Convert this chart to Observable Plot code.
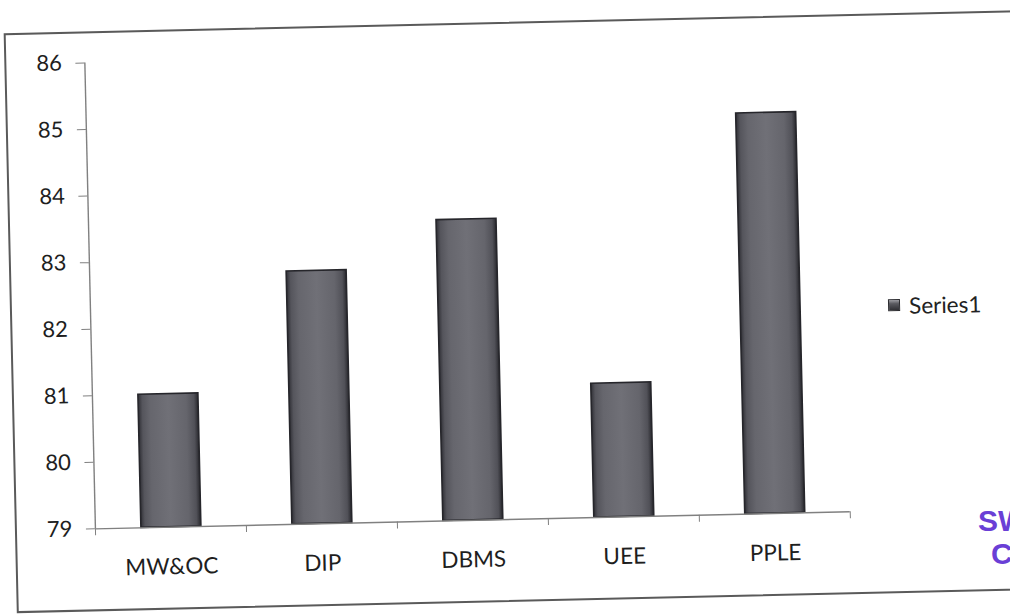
<!DOCTYPE html>
<html>
<head>
<meta charset="utf-8">
<script src="https://cdn.jsdelivr.net/npm/d3@7"></script>
<script src="https://cdn.jsdelivr.net/npm/@observablehq/plot@0.6"></script>
<style>
  html, body { margin: 0; padding: 0; background: #fff; overflow: hidden; width: 1010px; height: 614px; }
  #wrap { position: absolute; left: 0; top: 0; width: 1010px; height: 614px; transform: rotate(-1.3deg); transform-origin: 505px 307px; }
  #frame { position: absolute; left: 10px; top: 22px; width: 1100px; height: 580px; border: 2px solid #5a5a5a; box-sizing: border-box; }
  #chart { position: absolute; left: 0; top: 0; }
  #legend { position: absolute; left: 888px; top: 300px; height: 28px; display: flex; align-items: center; font: 22.5px Lato, sans-serif; color: #222; }
  #legend .sw { width: 12px; height: 12px; margin-right: 9px; background: linear-gradient(180deg, #9a9aa0 0%, #5a5a60 35%, #2f2f34 100%); border: 1px solid #2a2a2e; box-sizing: border-box; }
  .stamp { position: absolute; color: #6a3fd6; font: bold 30px "Liberation Sans", Arial, sans-serif; line-height: 30px; }
</style>
</head>
<body>
<div id="wrap">
  <div id="frame"></div>
  <div id="chart"></div>
  <div id="legend"><div class="sw"></div><span id="legendLabel"></span></div>
</div>
<div class="stamp" style="left:978px; top:506px;">SW</div>
<div class="stamp" style="left:991px; top:539px;">C</div>
<script>
// ---- data ----
const categories = ["MW&OC", "DIP", "DBMS", "UEE", "PPLE"];
const values = [81.0, 82.8, 83.52, 81.01, 85.02];
const yTicks = [79, 80, 81, 82, 83, 84, 85, 86];
const seriesName = "Series1";

const data = categories.map((c, i) => ({ category: c, index: i, value: values[i] }));
const yMin = yTicks[0], yMax = yTicks[yTicks.length - 1];
const boundaries = d3.range(categories.length + 1);

document.getElementById("legendLabel").textContent = seriesName;

const defsMark = () => {
  const defs = d3.create("svg:defs");
  const g = defs.append("linearGradient").attr("id", "barGrad")
    .attr("x1", "0").attr("x2", "1").attr("y1", "0").attr("y2", "0");
  [["0%", "#303036"], ["7%", "#55555c"], ["20%", "#66666d"], ["50%", "#707077"], ["80%", "#65656c"], ["93%", "#515158"], ["100%", "#28282d"]]
    .forEach(([o, c]) => g.append("stop").attr("offset", o).attr("stop-color", c));
  return defs.node();
};

const chart = Plot.plot({
  width: 1010,
  height: 614,
  marginLeft: 90,
  marginRight: 165,
  marginTop: 53,
  marginBottom: 95,
  style: { fontFamily: "Lato, sans-serif", fontSize: "22px", color: "#1e1e1e", background: "transparent" },
  x: { domain: [0, categories.length], axis: null, label: null },
  y: { domain: [yMin, yMax], axis: null, label: null },
  marks: [
    defsMark,
    Plot.rect(data, {
      x1: "index", x2: d => d.index + 1,
      y1: () => yMin, y2: "value",
      insetLeft: 46, insetRight: 45,
      fill: "url(#barGrad)", stroke: "#26262b", strokeWidth: 1.6
    }),
    Plot.ruleX([0], { stroke: "#808080", strokeWidth: 1.4 }),
    Plot.ruleY([yMin], { stroke: "#808080", strokeWidth: 1.4 }),
    Plot.axisY({ ticks: yTicks, tickSize: 9, tickPadding: 14, stroke: "#808080", fill: "#1e1e1e", fontSize: 22, label: null, tickFormat: d => String(d) }),
    Plot.axisX({ ticks: boundaries, tickSize: 7, stroke: "#808080", label: null, tickFormat: () => "" }),
    Plot.text(data, { x: d => d.index + 0.5, text: "category", frameAnchor: "bottom", dy: 47, fontSize: 22.5, fill: "#1e1e1e" })
  ]
});
document.getElementById("chart").appendChild(chart);
</script>
</body>
</html>
